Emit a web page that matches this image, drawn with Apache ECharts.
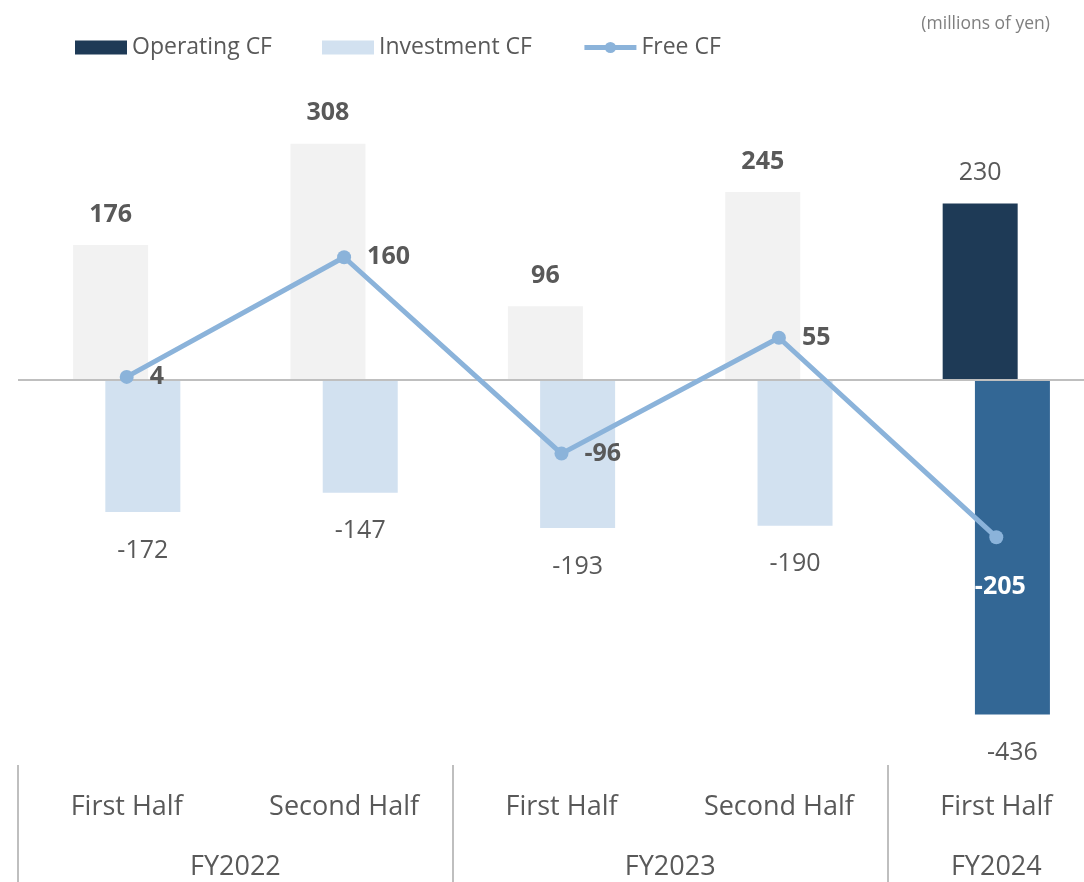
<!DOCTYPE html>
<html>
<head>
<meta charset="utf-8">
<script src="https://cdn.jsdelivr.net/npm/echarts@6/dist/echarts.min.js"></script>
<style>
  html, body { margin: 0; padding: 0; background: #fff; overflow: hidden; }
  /* wider than the window: the last category runs off the right edge */
  #chart { width: 1105px; height: 882px; }
</style>
</head>
<body>
<div id="chart"></div>
<script>
// data
var halves = ['First Half', 'Second Half', 'First Half', 'Second Half', 'First Half']
var fiscalYears = ['FY2022', 'FY2023', 'FY2024']
var fyFirst = [0, 2, 4]   // first category index of each fiscal year
var fyLast = [1, 3, 4]    // last category index of each fiscal year
var operatingCF = [176, 308, 96, 245, 230]
var investmentCF = [-172, -147, -193, -190, -436]
var freeCF = [4, 160, -96, 55, -205]

var font = 'Open Sans'
var textGray = '#595959'
var latest = halves.length - 1

// label positions and separators for the fiscal year row
var fyCenters = fiscalYears.map(function (n, i) { return (fyFirst[i] + fyLast[i]) / 2 })
var fySeparators = fyFirst.map(function (i) { return i - 0.5 })

var chart = echarts.init(document.getElementById('chart'))

var option = {
  animation: false,
  textStyle: { fontFamily: font },
  title: {
    text: '(millions of yen)',
    right: 50,
    top: 10,
    textStyle: { fontSize: 17.5, fontWeight: 'normal', color: '#7f7f7f', fontFamily: font }
  },
  legend: {
    left: 75,
    top: 36,
    padding: 0,
    itemWidth: 52,
    itemHeight: 14,
    itemGap: 50,
    textStyle: { fontSize: 23, color: textGray, fontFamily: font },
    lineStyle: { width: 5 },
    data: [
      { name: 'Operating CF', icon: 'rect' },
      { name: 'Investment CF', icon: 'rect' },
      { name: 'Free CF' }
    ]
  },
  grid: { left: 18, top: 100, right: 0, height: 665 },
  xAxis: [{
    type: 'category',
    data: halves,
    position: 'bottom',
    axisLine: { show: false, onZero: false },
    axisTick: { show: false },
    axisLabel: { margin: 29, fontSize: 27, color: textGray, fontFamily: font }
  }, {
    type: 'value',
    min: -0.5,
    max: 4.5,
    position: 'bottom',
    axisLine: { show: false, onZero: false },
    splitLine: { show: false },
    axisTick: {
      show: true,
      customValues: fySeparators,
      length: 117,
      lineStyle: { color: '#bfbfbf', width: 2 }
    },
    axisLabel: {
      customValues: fyCenters,
      margin: 89,
      fontSize: 27,
      color: textGray,
      fontFamily: font,
      formatter: function (v) {
        var i = fyCenters.indexOf(v)
        return i >= 0 ? fiscalYears[i] : ''
      }
    }
  }],
  yAxis: {
    type: 'value',
    min: -502,
    max: 365,
    show: false,
    splitLine: { show: false }
  },
  series: [{
    name: 'Operating CF',
    type: 'bar',
    barWidth: 75,
    barGap: '-57%',
    itemStyle: { color: '#1e3a56' },
    label: {
      show: true,
      position: 'top',
      distance: 18,
      fontSize: 25,
      color: textGray,
      fontFamily: font
    },
    data: operatingCF.map(function (v, i) {
      return {
        value: v,
        itemStyle: { color: i === latest ? '#1e3a56' : '#f2f2f2' },
        label: { fontWeight: i === latest ? 'normal' : 'bold' }
      }
    }),
    markLine: {
      silent: true,
      symbol: 'none',
      label: { show: false },
      lineStyle: { color: '#bfbfbf', width: 2, type: 'solid' },
      data: [{ yAxis: 0 }]
    }
  }, {
    name: 'Investment CF',
    type: 'bar',
    barWidth: 75,
    barGap: '-57%',
    itemStyle: { color: '#d2e1f0' },
    label: {
      show: true,
      position: 'bottom',
      distance: 26,
      fontSize: 25,
      color: textGray,
      fontFamily: font
    },
    data: investmentCF.map(function (v, i) {
      return {
        value: v,
        itemStyle: { color: i === latest ? '#336795' : '#d2e1f0' }
      }
    })
  }, {
    name: 'Free CF',
    type: 'line',
    z: 5,
    symbol: 'circle',
    symbolSize: 14,
    itemStyle: { color: '#8bb3da' },
    lineStyle: { color: '#8bb3da', width: 5 },
    label: {
      show: true,
      position: 'right',
      distance: 16,
      fontSize: 25,
      fontWeight: 'bold',
      color: textGray,
      fontFamily: font
    },
    data: freeCF.map(function (v, i) {
      if (i !== latest) return v
      return {
        value: v,
        label: { position: 'bottom', distance: 30, offset: [4, 0], color: '#ffffff' }
      }
    })
  }]
}

chart.setOption(option)
</script>
</body>
</html>
